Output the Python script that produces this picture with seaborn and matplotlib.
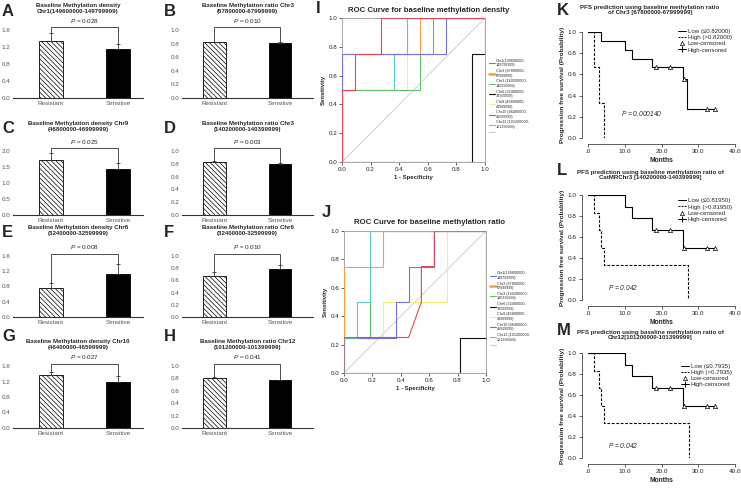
import numpy as np
import pandas as pd
import seaborn as sns
import matplotlib.pyplot as plt
from matplotlib.lines import Line2D

W, H = 741, 488

# ---- bar panels A-H ----
groups = ["Resistant", "Sensitive"]
bar_letters = ["A", "B", "C", "D", "E", "F", "G", "H"]
bar_titles = [
    "Baseline Methylation density\nChr1(149600000-149799999)",
    "Baseline Methylation ratio Chr3\n(67800000-67999999)",
    "Baseline Methylation density Chr9\n(46800000-46999999)",
    "Baseline Methylation ratio Chr3\n(140200000-140399999)",
    "Baseline Methylation density Chr6\n(32400000-32599999)",
    "Baseline Methylation ratio Chr6\n(32400000-32599999)",
    "Baseline Methylation density Chr10\n(46400000-46599999)",
    "Baseline Methylation ratio Chr12\n(101200000-101399999)",
]
resistant_mean = [1.34, 0.82, 1.72, 0.83, 0.75, 0.68, 1.36, 0.81]
resistant_err = [0.18, 0.01, 0.21, 0.01, 0.13, 0.06, 0.08, 0.01]
sensitive_mean = [1.16, 0.81, 1.45, 0.80, 1.14, 0.79, 1.20, 0.77]
sensitive_err = [0.12, 0.01, 0.17, 0.01, 0.24, 0.07, 0.14, 0.01]
p_values = ["0.028", "0.010", "0.025", "0.003", "0.008", "0.010", "0.027", "0.041"]
y_max = [1.6, 1.0, 2.0, 1.0, 1.6, 1.0, 1.6, 1.0]
y_step = [0.4, 0.2, 0.5, 0.2, 0.4, 0.2, 0.4, 0.2]

# ---- ROC panels I, J ----
roc_labels = ["Chr1(149600000-149799999)", "Chr3 (67800000-67999999)",
              "Chr3 (140200000-140399999)", "Chr6 (32400000-32599999)",
              "Chr9 (46800000-46999999)", "Chr10 (46400000-46599999)",
              "Chr12 (101200000-101399999)"]
roc_colors = ["#7474dc", "#f0a23c", "#5fbf6a", "#111111", "#f4ee7c", "#e04a55", "#5cc8c8"]

dens_fpr = [[0, 0, 0.727, 0.727, 1],
            [0, 0, 0.545, 0.545, 1],
            [0, 0, 0.545, 0.545, 0.636, 0.636, 1],
            [0, 0.909, 0.909, 1, 1],
            [0, 0, 0.455, 0.455, 1],
            [0, 0, 0.091, 0.091, 0.273, 0.273, 1],
            [0, 0, 0.364, 0.364, 0.455, 0.455, 1]]
dens_tpr = [[0, 0.75, 0.75, 1, 1],
            [0, 0.75, 0.75, 1, 1],
            [0, 0.5, 0.5, 0.75, 0.75, 1, 1],
            [0, 0, 0.75, 0.75, 1],
            [0, 0.5, 0.5, 1, 1],
            [0, 0.5, 0.5, 0.75, 0.75, 1, 1],
            [0, 0.5, 0.5, 0.75, 0.75, 1, 1]]

ratio_fpr = [[0, 0, 0.364, 0.364, 0.455, 0.455, 0.636, 0.636, 1],
             [0, 0, 0.273, 0.273, 1],
             [0, 0, 0.182, 0.182, 1],
             [0, 0.818, 0.818, 1, 1],
             [0, 0, 0.273, 0.273, 0.727, 0.727, 1],
             [0, 0, 0.455, 0.545, 0.545, 0.636, 0.636, 1],
             [0, 0, 0.091, 0.091, 0.182, 0.182, 1]]
ratio_tpr = [[0, 0.25, 0.25, 0.5, 0.5, 0.75, 0.75, 1, 1],
             [0, 0.75, 0.75, 1, 1],
             [0, 0.25, 0.25, 1, 1],
             [0, 0, 0.25, 0.25, 1],
             [0, 0.25, 0.25, 0.5, 0.5, 1, 1],
             [0, 0.25, 0.25, 0.5, 0.75, 0.75, 1, 1],
             [0, 0.25, 0.25, 0.5, 0.5, 1, 1]]

# ---- Kaplan-Meier panels K, L, M ----
km_letters = ["K", "L", "M"]
km_titles = ["PFS prediction using baseline methylation ratio\nof Chr3 [67800000-67999999]",
             "PFS prediction using baseline methylation ratio of\nCatMRChr3 [140200000-140399999]",
             "PFS prediction using baseline methylation ratio of\nChr12[101200000-101399999]"]
km_cut = ["0.82000", "0.81950", "0.7935"]
km_p = ["0.000140", "0.042", "0.042"]
low_t = [[0, 3.5, 10.0, 12.0, 17.5, 25.9, 27.0, 34.6],
         [0, 10.0, 12.0, 17.5, 25.9, 34.6],
         [0, 10.0, 12.0, 17.5, 25.9, 34.6]]
low_s = [[1, 0.917, 0.833, 0.75, 0.667, 0.556, 0.278, 0.278],
         [1, 0.889, 0.778, 0.667, 0.5, 0.5],
         [1, 0.889, 0.778, 0.667, 0.5, 0.5]]
cens_t = [[18.4, 22.3, 26.2, 32.4, 34.6],
          [18.4, 22.3, 26.2, 32.4, 34.6],
          [18.4, 22.3, 26.2, 32.4, 34.6]]
cens_s = [[0.667, 0.667, 0.556, 0.278, 0.278],
          [0.667, 0.667, 0.5, 0.5, 0.5],
          [0.667, 0.667, 0.5, 0.5, 0.5]]
high_t = [[0, 1.6, 3.0, 4.4],
          [0, 1.6, 3.0, 3.6, 4.4, 27.1],
          [0, 1.6, 3.0, 3.6, 4.4, 27.4]]
high_s = [[1, 0.667, 0.333, 0.0],
          [1, 0.833, 0.667, 0.5, 0.333, 0.0],
          [1, 0.833, 0.667, 0.5, 0.333, 0.0]]

sns.set_style("white")
plt.rcParams["font.family"] = ["Liberation Sans", "DejaVu Sans"]
plt.rcParams["mathtext.fontset"] = "custom"
plt.rcParams["mathtext.it"] = "Liberation Sans:italic"
plt.rcParams["mathtext.rm"] = "Liberation Sans"
plt.rcParams["hatch.linewidth"] = 0.5

fig = plt.figure(figsize=(W / 100, H / 100), dpi=100)


def px_rect(x0, y0, x1, y1):
    return [x0 / W, 1 - y1 / H, (x1 - x0) / W, (y1 - y0) / H]


def fig_text(x, y, s, **kw):
    fig.text(x / W, 1 - y / H, s, **kw)


col_x = [(13, 143), (182, 313)]
col_xlim = [(-0.567, 1.373), (-0.496, 1.504)]
row_y = [(30, 98), (151, 215), (256, 317), (366, 428)]
title_top = [3, 121, 225, 339]
letter_top = [4, 121, 225, 329]

for i in range(8):
    r, c = divmod(i, 2)
    ax = fig.add_axes(px_rect(col_x[c][0], row_y[r][0], col_x[c][1], row_y[r][1]))
    df = pd.DataFrame({"group": groups, "value": [resistant_mean[i], sensitive_mean[i]]})
    sns.barplot(data=df, x="group", y="value", hue="group", palette=["white", "black"],
                edgecolor="black", linewidth=0.6, width=0.35, legend=False, ax=ax)
    ax.patches[0].set_hatch("\\" * 7)
    tops = [resistant_mean[i] + resistant_err[i], sensitive_mean[i] + sensitive_err[i]]
    ax.errorbar([0, 1], [resistant_mean[i], sensitive_mean[i]],
                yerr=[[0, 0], [resistant_err[i], sensitive_err[i]]], fmt="none",
                ecolor="#333333", elinewidth=0.6, capsize=1.5, capthick=0.6)
    yb = y_max[i] * 1.04
    ax.plot([0, 0, 1, 1], [tops[0], yb, yb, tops[1]], color="#333333", lw=0.6, clip_on=False)
    ax.annotate(f"$P$ = {p_values[i]}", (0.5, yb), xytext=(0, 1.5), textcoords="offset points",
                ha="center", va="bottom", fontsize=4.6, annotation_clip=False)
    ax.set_xlim(*col_xlim[c])
    ax.set_ylim(0, y_max[i])
    yt = np.arange(0, y_max[i] + 1e-6, y_step[i])
    ax.set_yticks(yt)
    ax.set_yticklabels([f"{v:.1f}" for v in yt])
    ax.set_xlabel("")
    ax.set_ylabel("")
    ax.tick_params(length=0, labelsize=4.5, labelcolor="#555555", pad=2)
    for s in ["top", "right", "left"]:
        ax.spines[s].set_visible(False)
    ax.spines["bottom"].set_color("#333333")
    ax.spines["bottom"].set_linewidth(0.8)
    cx = (col_x[c][0] + col_x[c][1]) / 2
    fig_text(cx, title_top[r], bar_titles[i], ha="center", va="top", fontsize=4.4,
             fontweight="bold", linespacing=1.15)
    fig_text(2 + c * 162, letter_top[r], bar_letters[i], ha="left", va="top",
             fontsize=12, fontweight="bold")


def roc_panel(rect, fprs, tprs, order, title, letter, title_y, letter_xy):
    ax = fig.add_axes(px_rect(*rect))
    ax.plot([0, 1], [0, 1], color="#c8c8c8", lw=0.6)
    for k in order:
        sns.lineplot(x=fprs[k], y=tprs[k], ax=ax, color=roc_colors[k], lw=0.8,
                     estimator=None, sort=False)
    handles = [Line2D([], [], color=roc_colors[k], lw=1.8 if k == 1 else 0.8)
               for k in range(len(roc_labels))]
    handles.append(Line2D([], [], color="#c8c8c8", lw=0.8))
    labels = [lab.replace("-", "-\n") for lab in roc_labels] + [""]
    ax.legend(handles, labels, loc="upper left", bbox_to_anchor=(1.015, 0.73), fontsize=2.7,
              frameon=False, handlelength=1.6, labelspacing=0.45, borderpad=0,
              handletextpad=0.3)
    ax.set_xlim(0, 1)
    ax.set_ylim(0, 1)
    ticks = np.arange(0, 1.01, 0.2)
    ax.set_xticks(ticks)
    ax.set_yticks(ticks)
    ax.set_xticklabels([f"{v:.1f}" for v in ticks])
    ax.set_yticklabels([f"{v:.1f}" for v in ticks])
    ax.tick_params(length=2, width=0.5, labelsize=4.5, pad=1.5, colors="#222222",
                   bottom=True, left=True)
    for s in ax.spines.values():
        s.set_color("#999999")
        s.set_linewidth(0.6)
        s.set_zorder(1)
    ax.set_xlabel("1 - Specificity", fontsize=4.3, fontweight="bold", labelpad=2)
    ax.set_ylabel("Sensitivity", fontsize=4.3, fontweight="bold", labelpad=2)
    fig_text(429, title_y, title, ha="center", va="center", fontsize=5.6, fontweight="bold")
    fig_text(letter_xy[0], letter_xy[1], letter, ha="left", va="top", fontsize=12,
             fontweight="bold")


roc_panel((342, 18, 485, 162), dens_fpr, dens_tpr, [3, 4, 6, 1, 2, 0, 5],
          "ROC Curve for baseline methylation density", "I", 10, (316, 1))
roc_panel((344, 231, 486, 373), ratio_fpr, ratio_tpr, [3, 2, 4, 0, 1, 6, 5],
          "ROC Curve for baseline methylation ratio", "J", 222, (322, 205))

km_rects = [(588, 32, 735, 138), (588, 195, 735, 300), (588, 353, 735, 458)]
km_title_y = [5, 170, 330]
km_letter_y = [3, 163, 323]
km_legend_anchor = [(1.0, 1.06), (1.0, 1.0), (1.0, 0.93)]
km_p_pos = [(9.0, 0.23), (5.5, 0.12), (5.5, 0.12)]

for j in range(3):
    ax = fig.add_axes(px_rect(*km_rects[j]))
    sns.lineplot(x=low_t[j], y=low_s[j], ax=ax, color="black", lw=0.8, drawstyle="steps-post",
                 estimator=None, sort=False)
    sns.lineplot(x=high_t[j], y=high_s[j], ax=ax, color="black", lw=0.8, drawstyle="steps-post",
                 estimator=None, sort=False, linestyle=(0, (2.5, 1.5)))
    ax.scatter(cens_t[j], cens_s[j], marker="^", s=9, facecolors="white", edgecolors="black",
               linewidths=0.5, zorder=3, clip_on=False)
    ax.set_xlim(0, 40)
    ax.set_ylim(0, 1.0)
    ax.set_xticks([0, 10, 20, 30, 40])
    ax.set_xticklabels([".0", "10.0", "20.0", "30.0", "40.0"])
    yt = np.arange(0, 1.01, 0.2)
    ax.set_yticks(yt)
    ax.set_yticklabels([f"{v:.1f}" for v in yt])
    ax.tick_params(length=2, width=0.5, labelsize=4.6, pad=1.5, colors="#222222",
                   bottom=True, left=True)
    sns.despine(ax=ax, offset=4.5)
    for s in ["left", "bottom"]:
        ax.spines[s].set_color("#444444")
        ax.spines[s].set_linewidth(0.6)
    ax.set_xlabel("Months", fontsize=4.8, fontweight="bold", labelpad=2)
    ax.set_ylabel("Progression free survival (Probability)", fontsize=4.6, fontweight="bold",
                  labelpad=2)
    ax.text(km_p_pos[j][0], km_p_pos[j][1], f"$P$ = {km_p[j]}", fontsize=4.8,
            fontstyle="italic", ha="left", va="center")
    handles = [Line2D([], [], color="black", lw=0.7),
               Line2D([], [], color="black", lw=0.7, ls=(0, (2, 1.2))),
               Line2D([], [], color="black", marker="^", ls="none", markersize=3,
                      markerfacecolor="white", markeredgewidth=0.5),
               Line2D([], [], color="black", marker="+", lw=0.7, markersize=4,
                      markeredgewidth=0.7)]
    labels = [f"Low (\u2264{km_cut[j]})", f"High (>{km_cut[j]})", "Low-censored", "High-censored"]
    ax.legend(handles, labels, loc="upper right", bbox_to_anchor=km_legend_anchor[j],
              fontsize=4.4, frameon=False, handlelength=1.3, labelspacing=0.15, borderpad=0,
              handletextpad=0.3)
    fig_text(650, km_title_y[j], km_titles[j], ha="center", va="top", fontsize=4.4,
             fontweight="bold", linespacing=1.1)
    fig_text(557, km_letter_y[j], km_letters[j], ha="left", va="top", fontsize=12,
             fontweight="bold")

fig.savefig("out.png", dpi=100)
